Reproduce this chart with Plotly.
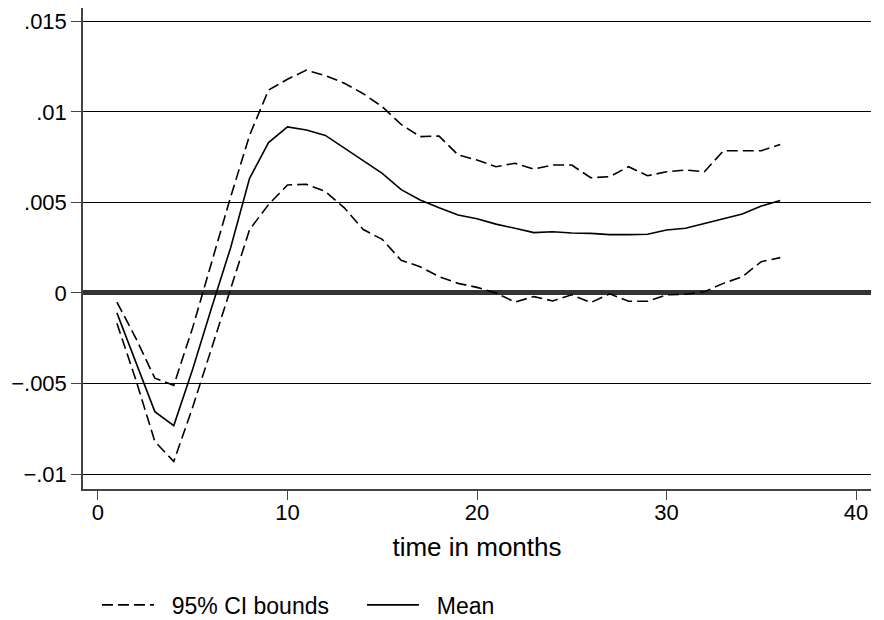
import plotly.graph_objects as go

months = list(range(1, 37))

mean_irf = [-0.0011, -0.0038, -0.00655, -0.00732, -0.0042, -0.0008, 0.0025, 0.00633,
            0.0083, 0.00917, 0.0090, 0.0087, 0.0080, 0.00734, 0.0066, 0.0057,
            0.00513, 0.0047, 0.0043, 0.0041, 0.0038, 0.00357, 0.00333, 0.00338,
            0.00331, 0.00329, 0.00322, 0.00322, 0.00324, 0.00348, 0.00357, 0.00383,
            0.0041, 0.00436, 0.0048, 0.0051]

upper_ci = [-0.0005, -0.0025, -0.0047, -0.0051, -0.0019, 0.0017, 0.0053, 0.0087,
            0.0112, 0.0118, 0.0123, 0.0120, 0.01158, 0.0110, 0.01028, 0.0093,
            0.00863, 0.00866, 0.00762, 0.00734, 0.00697, 0.00716, 0.00684, 0.00706,
            0.00706, 0.00636, 0.00642, 0.00697, 0.00647, 0.00669, 0.00679, 0.00669,
            0.00785, 0.00785, 0.00785, 0.0082]

lower_ci = [-0.00167, -0.0048, -0.0082, -0.0093, -0.0063, -0.0030, 0.0002, 0.0035,
            0.00488, 0.00596, 0.0060, 0.0056, 0.0047, 0.0035, 0.00296, 0.0018,
            0.00145, 0.0009, 0.00053, 0.00031, 0.0000, -0.0005, -0.0002, -0.00044,
            -0.0001, -0.00053, -0.00005, -0.00046, -0.00046, -0.0001, -0.00007, 0.00007,
            0.00053, 0.0009, 0.00173, 0.00195]

y_tickvals = [-0.01, -0.005, 0, 0.005, 0.01, 0.015]
y_ticktext = ["\u2212.01", "\u2212.005", "0", ".005", ".01", ".015"]
x_tickvals = [0, 10, 20, 30, 40]

FONT = "Liberation Sans, Arial, sans-serif"
DASH = "11px,5px"
NB = "\u00a0\u00a0"

fig = go.Figure()
fig.add_trace(go.Scatter(x=months, y=upper_ci, mode="lines", name=NB + "95% CI bounds",
                         line=dict(color="black", width=1.6, dash=DASH),
                         legendgroup="ci"))
fig.add_trace(go.Scatter(x=months, y=lower_ci, mode="lines", name=NB + "95% CI bounds",
                         line=dict(color="black", width=1.6, dash=DASH),
                         legendgroup="ci", showlegend=False))
fig.add_trace(go.Scatter(x=months, y=mean_irf, mode="lines", name=NB + "Mean",
                         line=dict(color="black", width=1.6)))

fig.update_layout(
    width=876, height=612,
    margin=dict(l=75, r=13, t=0, b=131, autoexpand=False),
    paper_bgcolor="white", plot_bgcolor="white",
    font=dict(family=FONT, size=22, color="black"),
    showlegend=True,
    legend=dict(orientation="h", x=0.0177, xanchor="left", y=-0.241, yanchor="middle",
                font=dict(family=FONT, size=23, color="black"),
                itemwidth=52, entrywidth=198, entrywidthmode="pixels",
                bgcolor="rgba(0,0,0,0)", tracegroupgap=0),
    xaxis=dict(range=[-0.79, 40.79], tickvals=x_tickvals, showgrid=False,
               zeroline=False, showline=True, linecolor="#444444", linewidth=1.5,
               ticks="outside", ticklen=9, tickwidth=1.3, tickcolor="#444444",
               ticklabelstandoff=-6,
               tickfont=dict(family=FONT, size=22, color="black"),
               title=dict(text="time in months", standoff=14,
                          font=dict(family=FONT, size=26, color="black"))),
    yaxis=dict(range=[-0.01082, 0.01573], tickvals=y_tickvals, ticktext=y_ticktext,
               showgrid=True, gridcolor="black", gridwidth=1,
               zeroline=True, zerolinecolor="#333333", zerolinewidth=5,
               showline=True, linecolor="#444444", linewidth=1.5,
               ticks="outside", ticklen=10, tickwidth=1.3, tickcolor="#444444",
               tickfont=dict(family=FONT, size=22, color="black")),
)

fig.write_html("out.html")
